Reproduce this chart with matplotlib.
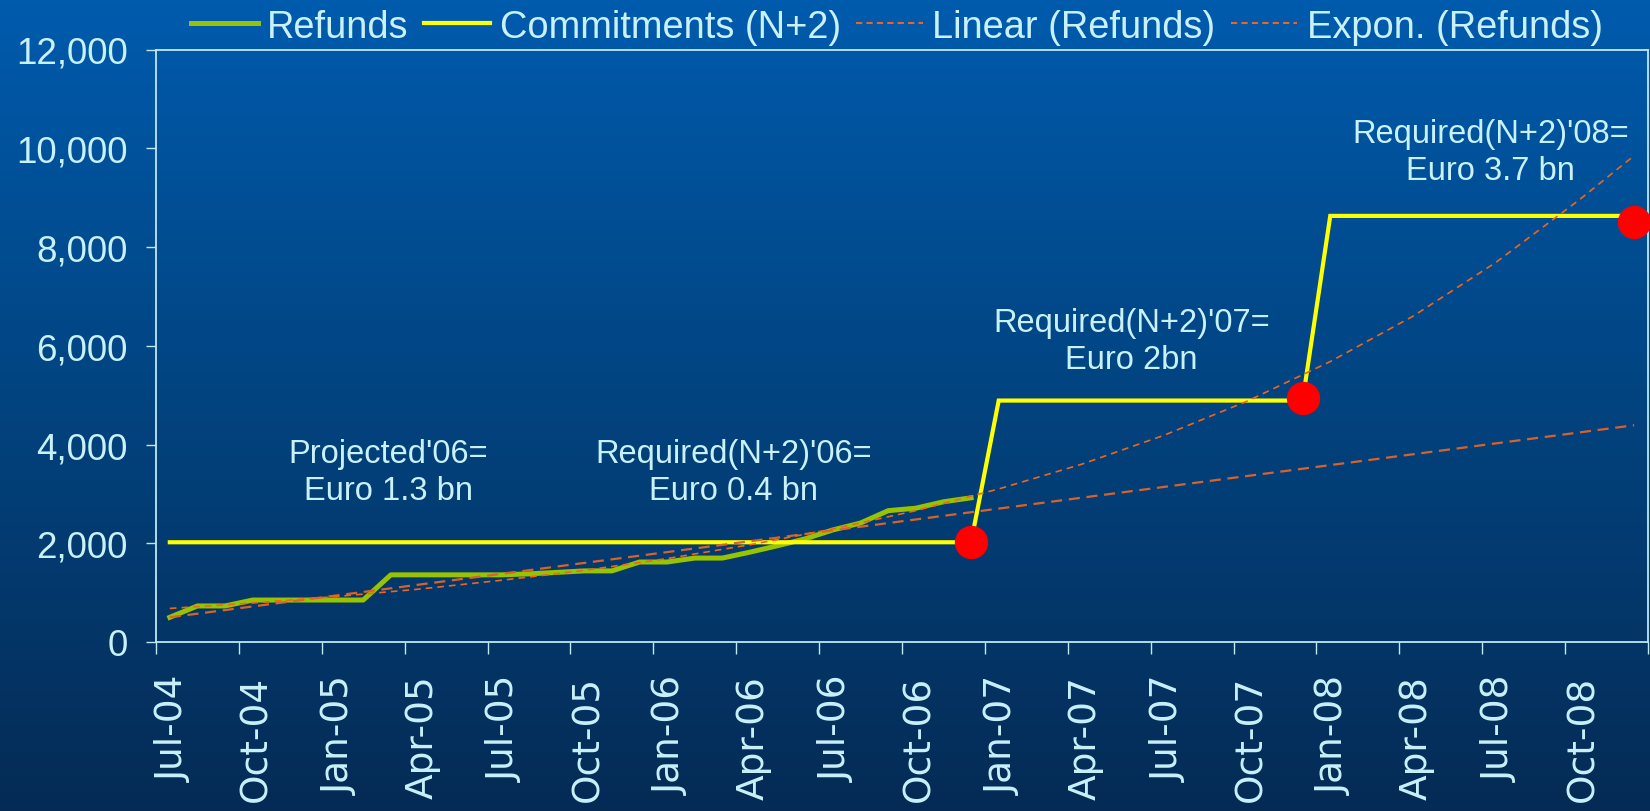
import numpy as np
import pandas as pd
import matplotlib
matplotlib.use('Agg')
import matplotlib.pyplot as plt
import matplotlib.transforms as mtransforms
from matplotlib.lines import Line2D
from matplotlib.colors import LinearSegmentedColormap
from matplotlib.ticker import FuncFormatter

# monthly categories Jul-04 .. Dec-08
months = pd.date_range('2004-07-01', periods=54, freq='MS').strftime('%b-%y').tolist()

# values (EUR m)
refunds = [500, 730, 730, 850, 850, 850, 850, 850, 1360, 1360,
           1360, 1360, 1360, 1380, 1410, 1440, 1440, 1620, 1620, 1700,
           1700, 1820, 1950, 2090, 2270, 2410, 2660, 2710, 2840, 2920]
commitments = [2020] * 30 + [4890] * 12 + [8630] * 12
deadline_idx = [29, 41, 53]
deadline_val = [2025, 4950, 8510]
lin_idx = [0, 53]
lin_val = [500, 4390]
exp_idx = [0, 3, 6, 9, 12, 15, 18, 21, 24, 27, 30, 33, 36, 39, 42, 45, 48, 51, 53]
exp_val = [680, 790, 920, 1070, 1250, 1450, 1690, 1970, 2290, 2660,
           3100, 3600, 4190, 4880, 5680, 6600, 7690, 8950, 9850]

notes = ["Projected'06=\nEuro 1.3 bn", "Required(N+2)'06=\nEuro 0.4 bn",
         "Required(N+2)'07=\nEuro 2bn", "Required(N+2)'08=\nEuro 3.7 bn"]
note_x = [7.9, 20.4, 34.8, 47.8]
note_y = [3440, 3440, 6100, 9920]

tc = '#c8f1fa'
ac = '#bfe8f3'
green = '#97c300'
yellow = '#ffff00'
orange = '#f0651a'

fig = plt.figure(figsize=(16.5, 8.12), dpi=100)

# slide background gradient
bg = fig.add_axes([0, 0, 1, 1], zorder=-1)
cmap = LinearSegmentedColormap.from_list('bg', ['#005bad', '#02437f', '#052b55'])
bg.imshow(np.linspace(0, 1, 256).reshape(-1, 1), aspect='auto', cmap=cmap,
          extent=[0, 1, 0, 1])
bg.axis('off')

ax = fig.add_axes([156 / 1650, (812 - 643) / 812, (1648 - 156) / 1650, (643 - 50.5) / 812])
ax.patch.set_alpha(0)

x = np.arange(len(months))
ax.plot(x[:len(refunds)], refunds, color=green, lw=3.6, solid_joinstyle='round', zorder=3)
ax.plot(x, commitments, color=yellow, lw=3, solid_joinstyle='miter', zorder=4)
ax.plot(lin_idx, lin_val, color='#d9622b', lw=1.6, dashes=(5, 3), zorder=5)
ax.plot(exp_idx, exp_val, color=orange, lw=1.2, dashes=(4, 3), zorder=5)
ax.plot(deadline_idx, deadline_val, 'o', color='#ff0000', ms=24, mec='none',
        zorder=6, clip_on=False)

ax.set_xlim(-0.5, len(months) - 0.5)
ax.set_ylim(0, 12000)

# category axis: ticks between categories every quarter, labels on the months
ax.set_xticks(np.arange(-0.5, len(months), 3))
ax.set_xticklabels([])
ax.set_xticks(x[::3], minor=True)
ax.set_xticklabels(months[::3], minor=True)
ax.tick_params(axis='x', which='major', length=8.5, width=1, color=ac, direction='out')
ax.tick_params(axis='x', which='minor', length=0, pad=23.5, labelsize=27,
               labelcolor=tc, labelrotation=90)
shift = mtransforms.ScaledTranslation(4 / 100, 0, fig.dpi_scale_trans)
for lab in ax.get_xticklabels(minor=True):
    lab.set_fontfamily('DejaVu Sans')
    lab.set_transform(lab.get_transform() + shift)

ax.set_yticks(np.arange(0, 12001, 2000))
ax.yaxis.set_major_formatter(FuncFormatter(lambda v, p: f'{int(v):,}'))
ax.tick_params(axis='y', length=7.2, width=1, color=ac, pad=13, labelsize=26.5,
               labelcolor=tc)
for lab in ax.get_yticklabels():
    lab.set_fontfamily('Liberation Sans')

for s in ax.spines.values():
    s.set_color(ac)
    s.set_linewidth(1.3)

for t, xx, yy in zip(notes, note_x, note_y):
    ax.text(xx, yy, t, ha='center', va='center', color=tc, fontsize=23.5,
            family='Liberation Sans', linespacing=1.25, zorder=7)

handles = [Line2D([], [], color=green, lw=3.6),
           Line2D([], [], color=yellow, lw=3),
           Line2D([], [], color=orange, lw=1.5, dashes=(3, 2)),
           Line2D([], [], color=orange, lw=1.5, dashes=(3, 2))]
labels = ['Refunds', 'Commitments (N+2)', 'Linear (Refunds)', 'Expon. (Refunds)']
leg = fig.legend(handles, labels, loc='center', bbox_to_anchor=(897 / 1650, 1 - 27.5 / 812),
                 ncol=4, frameon=False, handlelength=1.75,
                 handletextpad=0.25, columnspacing=0.4, borderpad=0, borderaxespad=0,
                 prop={'family': 'Liberation Sans', 'size': 27.4})
for t in leg.get_texts():
    t.set_color(tc)

fig.savefig('out.png', dpi=100)
